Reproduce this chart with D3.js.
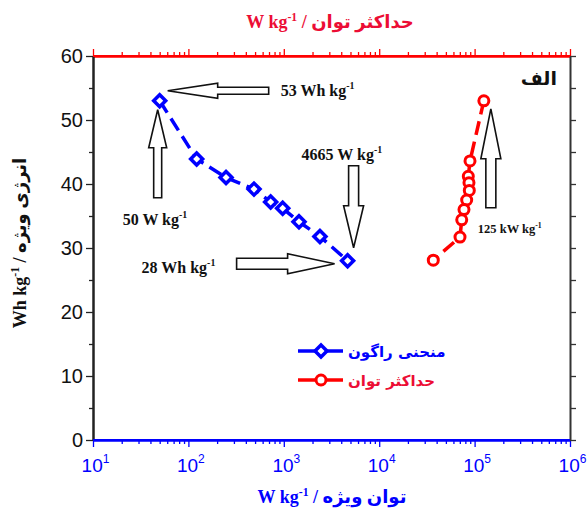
<!DOCTYPE html>
<html>
<head>
<meta charset="utf-8">
<script src="https://cdn.jsdelivr.net/npm/d3@7"></script>
<style>
  body { margin: 0; background: #fff; }
  svg { display: block; }
</style>
</head>
<body>
<div id="chart"></div>
<script>
// Ragone curve: specific power (W/kg) vs specific energy (Wh/kg)
const ragonePower  = [50, 122, 248, 487, 728, 973, 1443, 2393, 4665];
const ragoneEnergy = [53, 43.9, 41.0, 39.2, 37.2, 36.2, 34.1, 31.8, 28.0];

// maximum power curve
const maxPower  = [125000, 89500, 85900, 87300, 88000, 82600, 77400, 73300, 70300, 36900];
const maxEnergy = [53, 43.6, 41.2, 40.2, 39.0, 37.5, 36.0, 34.4, 31.7, 28.1];

// ticks
const xMajor = [1e1, 1e2, 1e3, 1e4, 1e5, 1e6];
const xExp = ["1", "2", "3", "4", "5", "6"];
const yMajor = [0, 10, 20, 30, 40, 50, 60];

// legend entries
const legendLabels = ["منحنی راگون", "حداکثر توان"];

const W = 587, H = 515;
const BLUE = "#0000ff", RED = "#ff0000", RED_TXT = "#ec0d35";

const svg = d3.select("#chart").append("svg")
    .attr("width", W)
    .attr("height", H);

const x = d3.scaleLog().domain([10, 1e6]).range([93, 570]);
const y = d3.scaleLinear().domain([0, 60]).range([440, 56]);

const xMinor = [];
for (let e = 1; e < 6; e++) for (let m = 2; m < 10; m++) xMinor.push(m * Math.pow(10, e));
const yMinor = d3.range(5, 60, 10);

// ---- axes ----
function styleAxis(g, color, width) {
    g.select(".domain").attr("stroke", color).attr("stroke-width", width);
    g.selectAll(".tick line").attr("stroke", color).attr("stroke-width", 1.3);
}

// bottom (blue)
const xBottomMinor = svg.append("g")
    .attr("transform", `translate(0,${y(0)})`)
    .call(d3.axisBottom(x).tickValues(xMinor).tickSize(4).tickSizeOuter(0).tickFormat(""));
styleAxis(xBottomMinor, BLUE, 2);
const xBottom = svg.append("g")
    .attr("transform", `translate(0,${y(0)})`)
    .call(d3.axisBottom(x).tickValues(xMajor).tickSize(7).tickSizeOuter(0).tickFormat(""));
styleAxis(xBottom, BLUE, 2);
xBottom.selectAll(".tick").append("text")
    .attr("y", 32)
    .attr("dx", 2)
    .attr("fill", BLUE)
    .attr("text-anchor", "middle")
    .style("font-family", "Liberation Sans, Arial, sans-serif")
    .style("font-size", "19px")
    .each(function(d, i) {
        const t = d3.select(this);
        t.append("tspan").text("10");
        t.append("tspan").attr("dy", -9).style("font-size", "12px").text(xExp[i]);
    });

// top (red)
const xTopMinor = svg.append("g")
    .attr("transform", `translate(0,${y(60)})`)
    .call(d3.axisTop(x).tickValues(xMinor).tickSize(4).tickSizeOuter(0).tickFormat(""));
styleAxis(xTopMinor, RED, 2);
const xTop = svg.append("g")
    .attr("transform", `translate(0,${y(60)})`)
    .call(d3.axisTop(x).tickValues(xMajor).tickSize(7).tickSizeOuter(0).tickFormat(""));
styleAxis(xTop, RED, 2);

// left (black)
const yLeftMinor = svg.append("g")
    .attr("transform", `translate(${x(10)},0)`)
    .call(d3.axisLeft(y).tickValues(yMinor).tickSize(4).tickSizeOuter(0).tickFormat(""));
styleAxis(yLeftMinor, "#222", 2);
const yLeft = svg.append("g")
    .attr("transform", `translate(${x(10)},0)`)
    .call(d3.axisLeft(y).tickValues(yMajor).tickSize(7).tickSizeOuter(0).tickPadding(3));
styleAxis(yLeft, "#222", 2);
yLeft.selectAll(".tick text")
    .attr("fill", "#111")
    .style("font-family", "Liberation Sans, Arial, sans-serif")
    .style("font-size", "20px");

// right (dark grey)
const yRight = svg.append("g")
    .attr("transform", `translate(${x(1e6)},0)`)
    .call(d3.axisRight(y).tickValues(d3.range(0, 61, 5)).tickSize(6).tickSizeOuter(0).tickFormat(""));
styleAxis(yRight, "#333", 2);

// redraw the frame lines so colours overlap like the reference
svg.append("line").attr("x1", x(10)).attr("x2", x(1e6)).attr("y1", y(60)).attr("y2", y(60))
    .attr("stroke", RED).attr("stroke-width", 2);
svg.append("line").attr("x1", x(10)).attr("x2", x(1e6)).attr("y1", y(0)).attr("y2", y(0))
    .attr("stroke", BLUE).attr("stroke-width", 2);

// ---- axis titles ----
const titleFont = "Liberation Serif, 'Times New Roman', 'DejaVu Sans', serif";

function mixedTitle(g, unit, persian, color, size) {
    g.attr("fill", color)
        .attr("text-anchor", "middle")
        .style("font-family", titleFont)
        .style("font-weight", "bold")
        .style("font-size", size + "px");
    g.append("tspan").text(unit);
    g.append("tspan").attr("dy", -7).style("font-size", (size * 0.65) + "px").text("-1");
    g.append("tspan").attr("dy", 7).text(" / " + persian);
}

mixedTitle(svg.append("text").attr("x", 330).attr("y", 28), "W kg", "حداکثر توان", RED_TXT, 18);
mixedTitle(svg.append("text").attr("x", 332).attr("y", 503), "W kg", "توان ویژه", BLUE, 18);
mixedTitle(svg.append("text").attr("transform", "translate(26,243) rotate(-90)"),
    "Wh kg", "انرژی ویژه", "#111", 18);

// panel label
svg.append("text")
    .attr("x", 557).attr("y", 85)
    .attr("text-anchor", "end")
    .attr("fill", "#111")
    .style("font-family", "'DejaVu Sans', sans-serif")
    .style("font-weight", "bold")
    .style("font-size", "19px")
    .text("الف");

// ---- series ----
const ragone = ragonePower.map((p, i) => ({ p, e: ragoneEnergy[i] }));
const maxp = maxPower.map((p, i) => ({ p, e: maxEnergy[i] }));

const line = d3.line().x(d => x(d.p)).y(d => y(d.e));

svg.append("path")
    .datum(ragone)
    .attr("d", line)
    .attr("fill", "none")
    .attr("stroke", BLUE)
    .attr("stroke-width", 3.5)
    .attr("stroke-dasharray", "14,7");

svg.append("path")
    .datum(maxp)
    .attr("d", line)
    .attr("fill", "none")
    .attr("stroke", RED)
    .attr("stroke-width", 3.5)
    .attr("stroke-dasharray", "14,7");

const diamond = d3.symbol().type(d3.symbolSquare).size(72);

svg.selectAll(".dia")
    .data(ragone)
    .enter().append("path")
    .attr("class", "dia")
    .attr("d", diamond)
    .attr("transform", d => `translate(${x(d.p)},${y(d.e)}) rotate(45)`)
    .attr("fill", "#fff")
    .attr("stroke", BLUE)
    .attr("stroke-width", 3.5);

svg.selectAll(".circ")
    .data(maxp)
    .enter().append("circle")
    .attr("class", "circ")
    .attr("cx", d => x(d.p))
    .attr("cy", d => y(d.e))
    .attr("r", 5)
    .attr("fill", "#fff")
    .attr("stroke", RED)
    .attr("stroke-width", 3);

// ---- block arrows with labels ----
// tip offset (dx, dy) from the anchor point, pointing direction, total length,
// head length, head width, shaft width
const angles = { left: 0, up: 90, right: 180, down: -90 };

function blockArrow(ax, ay, o) {
    const L = o.len, Hh = o.head, Wh = o.hw / 2, S = o.sw / 2;
    const pts = [[0, 0], [Hh, -Wh], [Hh, -S], [L, -S], [L, S], [Hh, S], [Hh, Wh]];
    svg.append("path")
        .attr("d", "M" + pts.map(p => p.join(",")).join("L") + "Z")
        .attr("transform", `translate(${ax + o.dx},${ay + o.dy}) rotate(${angles[o.dir]})`)
        .attr("fill", "#fff")
        .attr("stroke", "#111")
        .attr("stroke-width", 1.6)
        .attr("stroke-linejoin", "miter");
}

function arrowLabel(ax, ay, lx, ly, num, unit, size) {
    const t = svg.append("text")
        .attr("x", ax + lx).attr("y", ay + ly)
        .attr("fill", "#111")
        .style("font-family", "Liberation Serif, 'Times New Roman', serif")
        .style("font-weight", "bold")
        .style("font-size", size + "px");
    t.append("tspan").text(num + " " + unit);
    t.append("tspan").attr("dy", -size * 0.4).style("font-size", (size * 0.62) + "px").text("-1");
}

const firstPt = ragone[0], lastPt = ragone[ragone.length - 1], peakPt = maxp[0];

blockArrow(x(firstPt.p), y(firstPt.e), { dx: 8, dy: -10, dir: "left", len: 101, head: 50, hw: 15, sw: 7 });
arrowLabel(x(firstPt.p), y(firstPt.e), 121, -5, "53", "Wh kg", 16);

blockArrow(x(firstPt.p), y(firstPt.e), { dx: -2, dy: 9, dir: "up", len: 88, head: 38, hw: 18, sw: 8 });
arrowLabel(x(firstPt.p), y(firstPt.e), -37, 124, "50", "W kg", 16);

blockArrow(x(lastPt.p), y(lastPt.e), { dx: 6, dy: -13, dir: "down", len: 82, head: 42, hw: 20, sw: 10 });
arrowLabel(x(lastPt.p), y(lastPt.e), -46, -101, "4665", "W kg", 16);

blockArrow(x(lastPt.p), y(lastPt.e), { dx: -13, dy: 3, dir: "right", len: 98, head: 47, hw: 20, sw: 11 });
arrowLabel(x(lastPt.p), y(lastPt.e), -206, 12, "28", "Wh kg", 16);

blockArrow(x(peakPt.p), y(peakPt.e), { dx: 7, dy: 8, dir: "up", len: 99, head: 50, hw: 20, sw: 10 });
arrowLabel(x(peakPt.p), y(peakPt.e), -6, 132, "125", "kW kg", 12.5);

// ---- legend ----
const legend = svg.append("g").attr("transform", "translate(298,351)");
const legendColors = [BLUE, RED];
const legendText = [BLUE, RED_TXT];

legendLabels.forEach((lab, i) => {
    const g = legend.append("g").attr("transform", `translate(0,${i * 29})`);
    g.append("line").attr("x1", 0).attr("x2", 45).attr("y1", 0).attr("y2", 0)
        .attr("stroke", legendColors[i]).attr("stroke-width", 3.5);
    if (i === 0) {
        g.append("path").attr("d", diamond).attr("transform", "translate(23,0) rotate(45)")
            .attr("fill", "#fff").attr("stroke", BLUE).attr("stroke-width", 3.5);
    } else {
        g.append("circle").attr("cx", 23).attr("cy", 0).attr("r", 5)
            .attr("fill", "#fff").attr("stroke", RED).attr("stroke-width", 3);
    }
    g.append("text")
        .attr("x", 50).attr("y", 6)
        .attr("fill", legendText[i])
        .style("font-family", "'DejaVu Sans', sans-serif")
        .style("font-weight", "bold")
        .style("font-size", "15px")
        .text(lab);
});
</script>
</body>
</html>
